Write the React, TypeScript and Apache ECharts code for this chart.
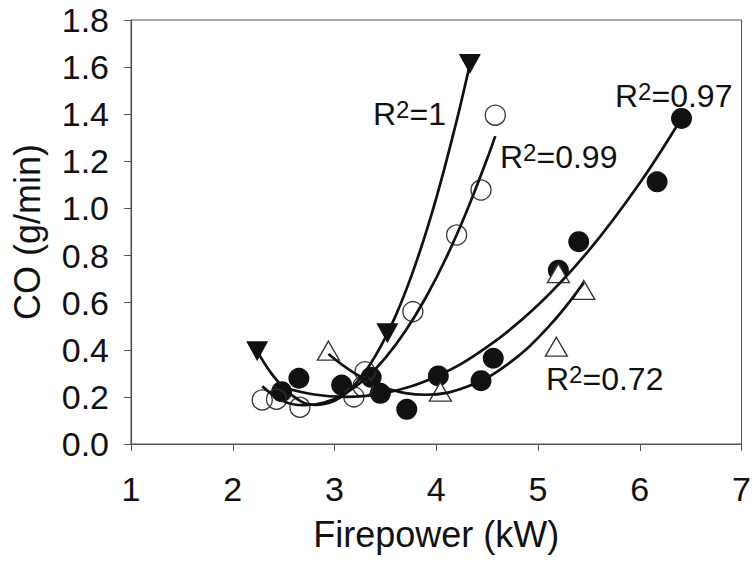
import React, { useEffect, useRef } from "react";
import * as echarts from "echarts";

// ---- Data ----
// Filled down-triangles (▼)
const triDownX = [2.24, 3.52, 4.33];
const triDownY = [0.394, 0.47, 1.613];
// Open circles (○)
const openCircX = [2.29, 2.43, 2.66, 3.19, 3.28, 3.3, 3.77, 4.2, 4.44, 4.58];
const openCircY = [0.187, 0.19, 0.156, 0.2, 0.245, 0.307, 0.562, 0.887, 1.078, 1.396];
// Filled circles (●)
const fillCircX = [2.48, 2.65, 3.07, 3.36, 3.45, 3.71, 4.02, 4.44, 4.56, 5.2, 5.4, 6.17, 6.41];
const fillCircY = [0.222, 0.279, 0.25, 0.283, 0.215, 0.147, 0.289, 0.269, 0.364, 0.738, 0.859, 1.113, 1.382];
// Open up-triangles (△)
const triUpX = [2.94, 4.04, 5.18, 5.2, 5.45];
const triUpY = [0.396, 0.222, 0.413, 0.725, 0.654];

// Regression curves
const fitDownX = [2.24, 2.4, 2.6, 2.8, 3.0, 3.2, 3.4, 3.6, 3.8, 4.0, 4.2, 4.33];
const fitDownY = [0.394, 0.288, 0.201, 0.166, 0.183, 0.252, 0.373, 0.544, 0.768, 1.044, 1.372, 1.612];
const fitOpenX = [2.29, 2.5, 2.7, 2.9, 3.1, 3.3, 3.5, 3.7, 3.9, 4.1, 4.3, 4.5, 4.58];
const fitOpenY = [0.245, 0.181, 0.165, 0.176, 0.213, 0.276, 0.366, 0.482, 0.624, 0.793, 0.989, 1.211, 1.307];
const fitFillX = [2.48, 2.8, 3.1, 3.5, 4.0, 4.5, 5.0, 5.5, 6.0, 6.41];
const fitFillY = [0.242, 0.21, 0.2, 0.217, 0.287, 0.412, 0.59, 0.822, 1.108, 1.383];
const fitUpX = [2.94, 3.2, 3.5, 3.9, 4.3, 4.7, 5.1, 5.45];
const fitUpY = [0.382, 0.3, 0.238, 0.209, 0.243, 0.338, 0.496, 0.685];

const r2Labels = ["1", "0.99", "0.97", "0.72"];

const FONT = "'Liberation Sans', Arial, Helvetica, sans-serif";
const TXT = "#111";
const AX = "#555";

const pairs = (xs: number[], ys: number[]) => xs.map((x, i) => [x, ys[i]]);

export default function App() {
  const ref = useRef<HTMLDivElement>(null);
  useEffect(() => {
    if (!ref.current) return;
    const chart = echarts.init(ref.current, undefined, { renderer: "svg" });
    const lineSeries = (data: number[][]) => ({
      type: "line",
      data,
      smooth: 0.4,
      showSymbol: false,
      symbol: "none",
      lineStyle: { color: "#111", width: 2.7, opacity: 1 },
      z: 5,
      silent: true,
    });
    const r2 = (val: string, x: number, y: number) => ({
      type: "text",
      x,
      y,
      z: 10,
      style: {
        text: `{a|R}{b|2}{a|=${val}}`,
        verticalAlign: "middle",
        align: "left",
        rich: {
          a: { fontSize: 32, fontFamily: FONT, fill: TXT },
          b: { fontSize: 24, fontFamily: FONT, fill: TXT, verticalAlign: "top" },
        },
      },
    });
    chart.setOption({
      animation: false,
      backgroundColor: "#fff",
      grid: {
        left: 131,
        top: 20,
        width: 616,
        height: 424,
        show: true,
        borderColor: AX,
        borderWidth: 1,
        backgroundColor: "transparent",
      },
      xAxis: {
        type: "value",
        min: 1,
        max: 7,
        interval: 1,
        name: "Firepower (kW)",
        nameLocation: "middle",
        nameGap: 72,
        nameTextStyle: { fontSize: 36, fontFamily: FONT, color: TXT },
        axisLine: { show: true, lineStyle: { color: AX, width: 1.2 } },
        axisTick: { show: true, inside: false, length: 7, lineStyle: { color: AX } },
        axisLabel: { fontSize: 34, fontFamily: FONT, color: TXT, margin: 28 },
        splitLine: { show: false },
      },
      yAxis: {
        type: "value",
        min: 0,
        max: 1.8,
        interval: 0.2,
        name: "CO (g/min)",
        nameLocation: "middle",
        nameGap: 86,
        nameTextStyle: { fontSize: 36, fontFamily: FONT, color: TXT },
        axisLine: { show: true, lineStyle: { color: AX, width: 1.2 } },
        axisTick: { show: true, inside: false, length: 7, lineStyle: { color: AX } },
        axisLabel: {
          fontSize: 34,
          fontFamily: FONT,
          color: TXT,
          margin: 22,
          formatter: (v: number) => v.toFixed(1),
        },
        splitLine: { show: false },
      },
      series: [
        {
          type: "scatter",
          data: pairs(fillCircX, fillCircY),
          symbol: "circle",
          symbolSize: 21,
          itemStyle: { color: "#111", opacity: 1 },
          z: 2,
        },
        {
          type: "scatter",
          data: pairs(openCircX, openCircY),
          symbol: "circle",
          symbolSize: 20,
          itemStyle: { color: "rgba(255,255,255,0)", borderColor: "#333", borderWidth: 1.3, opacity: 1 },
          z: 3,
        },
        {
          type: "scatter",
          data: pairs(triUpX, triUpY),
          symbol: "triangle",
          symbolSize: [22, 19],
          itemStyle: { color: "#fff", borderColor: "#333", borderWidth: 1.3, opacity: 1 },
          z: 3,
        },
        {
          type: "scatter",
          data: pairs(triDownX, triDownY),
          symbol: "triangle",
          symbolRotate: 180,
          symbolSize: [22, 20],
          itemStyle: { color: "#111", opacity: 1 },
          z: 3,
        },
        lineSeries(pairs(fitDownX, fitDownY)),
        lineSeries(pairs(fitOpenX, fitOpenY)),
        lineSeries(pairs(fitFillX, fitFillY)),
        lineSeries(pairs(fitUpX, fitUpY)),
      ],
      graphic: [
        r2(r2Labels[0], 373, 113.5),
        r2(r2Labels[1], 500, 156.5),
        r2(r2Labels[2], 615, 95.5),
        r2(r2Labels[3], 546, 378.5),
      ],
    });
    return () => chart.dispose();
  }, []);
  return (
    <div
      ref={ref}
      style={{ position: "absolute", left: 0, top: 0, width: 754, height: 562, background: "#fff" }}
    />
  );
}
